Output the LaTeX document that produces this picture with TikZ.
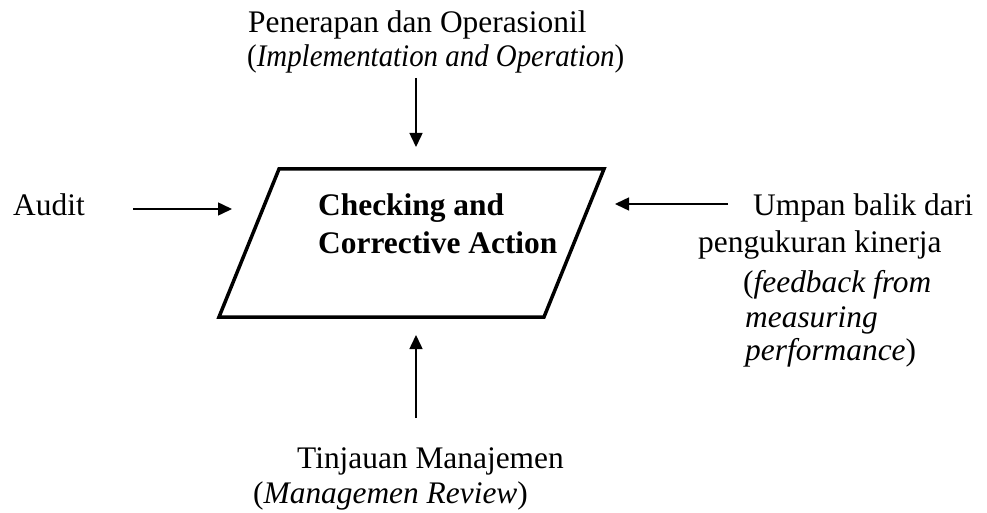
\documentclass[tikz,border=0pt]{standalone}
\usepackage{fontspec}
\setmainfont{Liberation Serif}
\usetikzlibrary{arrows.meta}
\begin{document}
\begin{tikzpicture}[x=1pt,y=-1pt,
  lbl/.style={inner sep=0pt,anchor=base west,font=\fontsize{31.4}{37}\selectfont},
  boldlbl/.style={lbl,font=\fontsize{31.4}{37}\selectfont\bfseries},
  arr/.style={line width=1.5pt,-{Triangle[length=14pt,width=13pt]}},
  box/.style={line width=3.5pt,line join=miter}]
\useasboundingbox (0,0) rectangle (987,513);
% parallelogram
\coordinate (p1) at (279,169);
\coordinate (p2) at (604,169);
\coordinate (p3) at (544,317);
\coordinate (p4) at (219,317);
\draw[box] (p1) -- (p2) -- (p3) -- (p4) -- cycle;
\node[boldlbl] (c1) at (318,215) {Checking and};
\node[boldlbl] (c2) at (318,253) {Corrective Action};
% top
\node[lbl] (t1) at (248,33) {Penerapan dan Operasionil};
\node[lbl] (t2) at (247,67) {\scalebox{0.92}[1]{(\textit{Implementation and Operation})}};
% left
\node[lbl] (a1) at (13,215) {Audit};
% right
\node[lbl] (r1) at (753,215) {Umpan balik dari};
\node[lbl] (r2) at (698,252) {pengukuran kinerja};
\node[lbl] (r3) at (743,292) {(\textit{feedback from}};
\node[lbl] (r4) at (745,327) {\textit{measuring}};
\node[lbl] (r5) at (745,360) {\textit{performance})};
% bottom
\node[lbl] (b1) at (297,468) {Tinjauan Manajemen};
\node[lbl] (b2) at (253,503) {(\textit{Managemen Review})};
% arrows
\coordinate (ts) at (416,78);   \coordinate (te) at (416,147);
\coordinate (ls) at (133,209);  \coordinate (le) at (232,209);
\coordinate (rs) at (728,204);  \coordinate (re) at (615,204);
\coordinate (bs) at (416,418);  \coordinate (be) at (416,335);
\draw[arr] (ts) -- (te);
\draw[arr] (ls) -- (le);
\draw[arr] (rs) -- (re);
\draw[arr] (bs) -- (be);
\end{tikzpicture}
\end{document}
